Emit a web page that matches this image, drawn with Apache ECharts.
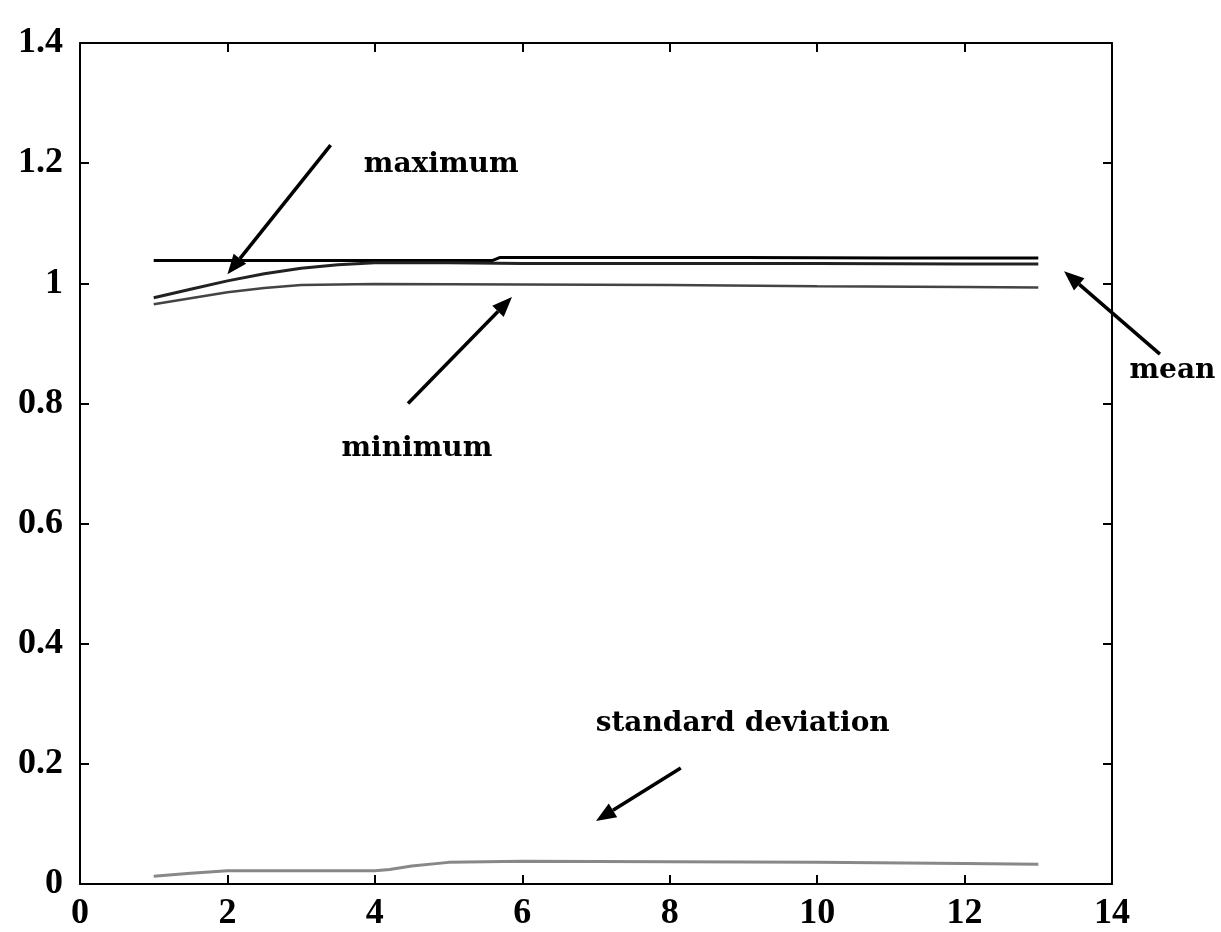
<!DOCTYPE html>
<html>
<head>
<meta charset="utf-8">
<script src="https://cdn.jsdelivr.net/npm/echarts@6/dist/echarts.min.js"></script>
<style>
  html, body { margin: 0; padding: 0; background: #fff; }
  #chart { width: 1221px; height: 932px; }
</style>
</head>
<body>
<div id="chart"></div>
<script>
// values
const maxX = [1, 2, 3, 4, 5, 5.6, 5.7, 7, 9, 11, 13];
const maxY = [1.038, 1.038, 1.038, 1.038, 1.038, 1.038, 1.043, 1.043, 1.043, 1.042, 1.042];

const meanX = [1, 1.5, 2, 2.5, 3, 3.5, 4, 5, 6, 8, 10, 12, 13];
const meanY = [0.976, 0.99, 1.004, 1.016, 1.025, 1.031, 1.034, 1.034, 1.033, 1.033, 1.033, 1.032, 1.032];

const minX = [1, 1.5, 2, 2.5, 3, 3.5, 4, 6, 8, 10, 12, 13];
const minY = [0.965, 0.975, 0.985, 0.992, 0.997, 0.998, 0.999, 0.998, 0.997, 0.995, 0.994, 0.993];

const stdX = [1, 1.5, 2, 3, 4, 4.2, 4.5, 5, 6, 8, 10, 12, 13];
const stdY = [0.013, 0.018, 0.022, 0.022, 0.022, 0.024, 0.03, 0.036, 0.038, 0.037, 0.036, 0.034, 0.033];

// annotation text + arrow, in data units
const notes = [
  { text: "maximum", at: [4.9, 1.198], from: [3.4, 1.23], to: [2.0, 1.015] },
  { text: "minimum", at: [4.57, 0.724], from: [4.45, 0.8], to: [5.86, 0.977] },
  { text: "mean", at: [14.82, 0.854], from: [14.65, 0.882], to: [13.35, 1.02] },
  { text: "standard deviation", at: [8.99, 0.266], from: [8.15, 0.193], to: [7.0, 0.105] },
];

const tickFont = "'Liberation Serif', 'Times New Roman', serif";
const noteFont = "'DejaVu Serif', serif";

const chart = echarts.init(document.getElementById("chart"));

const pairs = (xs, ys) => xs.map((x, i) => [x, ys[i]]);

const axisBox = { show: true, onZero: false, lineStyle: { color: "#000", width: 2 } };
const inTicks = { show: true, inside: true, length: 9, lineStyle: { color: "#000", width: 2 } };
const tickText = { color: "#000", fontFamily: tickFont, fontWeight: "bold", fontSize: 36 };

chart.setOption({
  animation: false,
  backgroundColor: "#fff",
  grid: { left: 80, right: 109, top: 43, bottom: 47 },
  xAxis: [
    {
      type: "value", min: 0, max: 14, interval: 2,
      axisLine: axisBox, axisTick: inTicks, splitLine: { show: false },
      axisLabel: Object.assign({ margin: 12 }, tickText),
    },
    {
      type: "value", position: "top", min: 0, max: 14, interval: 2,
      axisLine: axisBox, axisTick: inTicks, splitLine: { show: false }, axisLabel: { show: false },
    },
  ],
  yAxis: [
    {
      type: "value", min: 0, max: 1.4, interval: 0.2,
      axisLine: axisBox, axisTick: inTicks, splitLine: { show: false },
      axisLabel: Object.assign({ margin: 17 }, tickText),
    },
    {
      type: "value", position: "right", min: 0, max: 1.4, interval: 0.2,
      axisLine: axisBox, axisTick: inTicks, splitLine: { show: false }, axisLabel: { show: false },
    },
  ],
  series: [
    { name: "maximum", type: "line", data: pairs(maxX, maxY), symbol: "none",
      lineStyle: { color: "#000", width: 3 } },
    { name: "mean", type: "line", data: pairs(meanX, meanY), symbol: "none",
      lineStyle: { color: "#222", width: 3 } },
    { name: "minimum", type: "line", data: pairs(minX, minY), symbol: "none",
      lineStyle: { color: "#444", width: 2.5 } },
    { name: "standard deviation", type: "line", data: pairs(stdX, stdY), symbol: "none",
      lineStyle: { color: "#888", width: 3 } },
  ],
});

// arrows and labels placed through the chart's own scales
const graphics = [];
notes.forEach((n) => {
  const p = chart.convertToPixel({ gridIndex: 0 }, n.at);
  const a = chart.convertToPixel({ gridIndex: 0 }, n.from);
  const b = chart.convertToPixel({ gridIndex: 0 }, n.to);
  const ang = Math.atan2(b[1] - a[1], b[0] - a[0]);
  const len = 20, half = 8;
  const bx = b[0] - len * Math.cos(ang), by = b[1] - len * Math.sin(ang);
  const nx = -Math.sin(ang) * half, ny = Math.cos(ang) * half;
  graphics.push({
    type: "text", x: p[0], y: p[1],
    style: { text: n.text, fill: "#000", font: "bold 28px " + noteFont, textAlign: "center", textVerticalAlign: "middle" },
  });
  graphics.push({
    type: "line", shape: { x1: a[0], y1: a[1], x2: bx, y2: by },
    style: { stroke: "#000", lineWidth: 3.5 },
  });
  graphics.push({
    type: "polygon", shape: { points: [[b[0], b[1]], [bx + nx, by + ny], [bx - nx, by - ny]] },
    style: { fill: "#000" },
  });
});
chart.setOption({ graphic: graphics });
</script>
</body>
</html>
